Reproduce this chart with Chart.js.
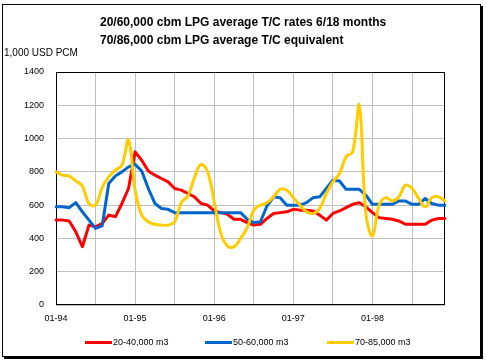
<!DOCTYPE html>
<html>
<head>
<meta charset="utf-8">
<script src="https://cdn.jsdelivr.net/npm/chart.js@4.4.0/dist/chart.umd.min.js"></script>
<style>
  html, body { margin: 0; padding: 0; background: #fff; }
  #wrap { position: relative; width: 486px; height: 362px; font-family: Arial, "Liberation Sans", sans-serif; color: #000; }
  #frame { position: absolute; left: 2px; top: 4px; width: 477px; height: 351px; border: 1px solid #000; box-shadow: 2px 2px 0 #000; }
  #chart { position: absolute; left: 0; top: 0; }
  #title { position: absolute; left: 100px; top: 13px; font-size: 12px; font-weight: bold; line-height: 18px; white-space: nowrap; }
  #unit { position: absolute; left: 4px; top: 47px; font-size: 10px; line-height: 12px; white-space: nowrap; }
  #legend { position: absolute; top: 336px; left: 0; width: 486px; height: 12px; }
  .item { position: absolute; top: 0; display: flex; align-items: center; font-size: 9px; line-height: 12px; white-space: nowrap; }
  .item:nth-child(1) { left: 85px; }
  .item:nth-child(2) { left: 205px; }
  .item:nth-child(3) { left: 327px; }
  .swatch { width: 27px; height: 3px; margin-right: 1px; }
</style>
</head>
<body>
<div id="wrap">
  <div id="frame"></div>
  <canvas id="chart" width="486" height="362"></canvas>
  <div id="title">20/60,000 cbm LPG average T/C rates 6/18 months<br>70/86,000 cbm LPG average T/C equivalent</div>
  <div id="unit">1,000 USD PCM</div>
  <div id="legend"></div>
</div>
<script>
// monthly, 01-94 .. 12-98
const years = ["94", "95", "96", "97", "98"];
const monthNums = ["01", "02", "03", "04", "05", "06", "07", "08", "09", "10", "11", "12"];
const months = [];
years.forEach((y) => monthNums.forEach((m) => months.push(m + "-" + y)));

const seriesNames = ["20-40,000 m3", "50-60,000 m3", "70-85,000 m3"];

const small = [
  510, 510, 505, 440, 350, 480, 470, 490, 540, 530,
  610, 700, 920, 870, 805, 780, 760, 740, 700, 690,
  670, 650, 610, 600, 565, 555, 545, 515, 515, 495,
  480, 485, 520, 550, 555, 560, 575, 570, 570, 565,
  540, 510, 550, 565, 585, 605, 615, 590, 555, 525,
  520, 515, 505, 485, 485, 485, 485, 510, 520, 520
];

const medium = [
  590, 590, 585, 615, 560, 510, 460, 475, 730, 775,
  800, 830, 845, 805, 700, 610, 580, 575, 555, 555,
  555, 555, 555, 555, 555, 555, 555, 555, 555, 515,
  495, 500, 595, 650, 645, 600, 600, 600, 615, 645,
  650, 700, 750, 745, 695, 695, 695, 660, 605, 605,
  605, 605, 625, 625, 605, 605, 640, 610, 600, 600
];

const large = [
  800, 780, 775, 745, 715, 610, 600, 705, 770, 810,
  840, 990, 690, 540, 500, 485, 480, 480, 500, 615,
  655, 765, 845, 800, 620, 430, 355, 350, 400, 465,
  570, 600, 615, 650, 695, 690, 645, 600, 560, 550,
  580, 670, 740, 790, 890, 920, 1200, 550, 415, 600,
  645, 625, 650, 720, 700, 640, 590, 645, 650, 625
];

const colors = ["#ff0000", "#0066cc", "#ffcc00"];

Chart.defaults.font.family = 'Arial, "Liberation Sans", sans-serif';
Chart.defaults.color = "#000";

// black box round the plot area
const plotBorder = {
  id: "plotBorder",
  beforeDatasetsDraw(chart) {
    const a = chart.chartArea;
    const ctx = chart.ctx;
    ctx.save();
    ctx.strokeStyle = "#000";
    ctx.lineWidth = 1;
    ctx.strokeRect(Math.round(a.left) + 0.5, Math.round(a.top) + 0.5,
      Math.round(a.right - a.left) - 1, Math.round(a.bottom - a.top) - 1);
    ctx.restore();
  }
};

const chart = new Chart(document.getElementById("chart"), {
  type: "line",
  data: {
    labels: months,
    datasets: [
      { label: seriesNames[0], data: small, borderColor: colors[0], backgroundColor: colors[0], tension: 0, order: 3 },
      { label: seriesNames[1], data: medium, borderColor: colors[1], backgroundColor: colors[1], tension: 0, order: 2 },
      { label: seriesNames[2], data: large, borderColor: colors[2], backgroundColor: colors[2], tension: 0.4, order: 1 }
    ]
  },
  options: {
    responsive: false,
    animation: false,
    events: [],
    elements: {
      line: { borderWidth: 3, borderCapStyle: "round", borderJoinStyle: "round" },
      point: { radius: 0 }
    },
    layout: { padding: { left: 0, top: 72, right: 41, bottom: 37 } },
    plugins: {
      legend: { display: false },
      tooltip: { enabled: false }
    },
    scales: {
      x: {
        type: "category",
        offset: false,
        grid: {
          drawTicks: false,
          color: (ctx) => (ctx.index % 6 === 0 ? "#c0c0c0" : "rgba(0,0,0,0)")
        },
        border: { display: false },
        ticks: {
          autoSkip: false,
          maxRotation: 0,
          padding: 8,
          font: { size: 9 },
          callback: function (val, i) {
            return i % 12 === 0 ? this.getLabelForValue(val) : "";
          }
        },
        afterFit: (scale) => { scale.height = 20; }
      },
      y: {
        min: 0,
        max: 1400,
        grid: { drawTicks: false, color: "#c0c0c0" },
        border: { display: false },
        ticks: { stepSize: 200, padding: 12, font: { size: 9 }, callback: (v) => String(v) },
        afterFit: (scale) => { scale.width = 56; }
      }
    }
  },
  plugins: [plotBorder]
});

// legend below the plot
const legendBox = document.getElementById("legend");
chart.data.datasets.forEach((ds) => {
  const item = document.createElement("div");
  item.className = "item";
  const sw = document.createElement("span");
  sw.className = "swatch";
  sw.style.background = ds.borderColor;
  item.appendChild(sw);
  item.appendChild(document.createTextNode(ds.label));
  legendBox.appendChild(item);
});
</script>
</body>
</html>
